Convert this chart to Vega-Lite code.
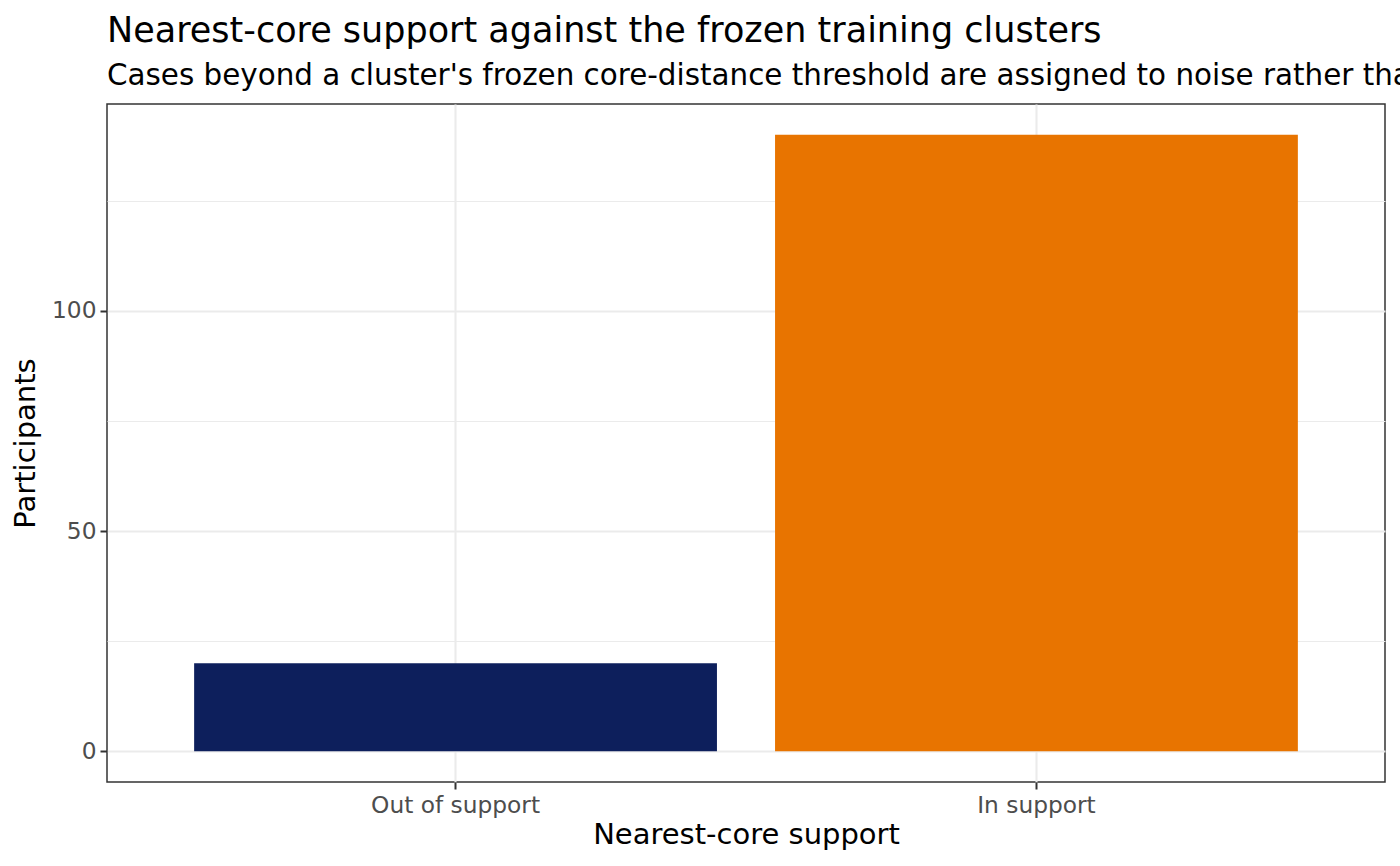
{
  "$schema": "https://vega.github.io/schema/vega-lite/v6.json",
  "autosize": {"type": "none"},
  "width": 1278,
  "height": 678,
  "padding": {"left": 107, "top": 104, "right": 15, "bottom": 84},
  "background": "white",
  "title": {
    "text": "Nearest-core support against the frozen training clusters",
    "subtitle": "Cases beyond a cluster's frozen core-distance threshold are assigned to noise rather than to the nearest cluster",
    "anchor": "start",
    "frame": "group",
    "font": "DejaVu Sans",
    "fontSize": 35,
    "fontWeight": "normal",
    "color": "black",
    "subtitleFont": "DejaVu Sans",
    "subtitleFontSize": 29.4,
    "subtitleColor": "black",
    "subtitlePadding": 13,
    "offset": 14
  },
  "data": {
    "values": [
      {"support": "Out of support", "participants": 20},
      {"support": "In support", "participants": 140}
    ]
  },
  "mark": {"type": "bar"},
  "encoding": {
    "x": {
      "field": "support",
      "type": "nominal",
      "sort": ["Out of support", "In support"],
      "scale": {"paddingInner": 0.1, "paddingOuter": 0.15},
      "axis": {
        "title": "Nearest-core support",
        "titleFont": "DejaVu Sans",
        "titleFontSize": 29,
        "titleFontWeight": "normal",
        "titleColor": "black",
        "titlePadding": 4,
        "labelFont": "DejaVu Sans",
        "labelFontSize": 23.3,
        "labelColor": "#4D4D4D",
        "labelAngle": 0,
        "labelPadding": 5,
        "domain": false,
        "ticks": true,
        "tickColor": "#333333",
        "tickSize": 7,
        "tickWidth": 2,
        "grid": true,
        "gridColor": "#EBEBEB",
        "gridWidth": 2.1,
        "bandPosition": 0.5
      }
    },
    "y": {
      "field": "participants",
      "type": "quantitative",
      "scale": {"domain": [-7, 147], "nice": false, "zero": false},
      "axis": {
        "title": "Participants",
        "values": [0, 25, 50, 75, 100, 125],
        "labelExpr": "datum.value % 50 === 0 ? datum.label : ''",
        "titleFont": "DejaVu Sans",
        "titleFontSize": 29,
        "titleFontWeight": "normal",
        "titleColor": "black",
        "titlePadding": 11,
        "labelFont": "DejaVu Sans",
        "labelFontSize": 23.3,
        "labelColor": "#4D4D4D",
        "labelPadding": 4,
        "domain": false,
        "tickColor": "#333333",
        "tickSize": 7,
        "tickWidth": 2,
        "tickOpacity": {"condition": {"test": "datum.value % 50 !== 0", "value": 0}, "value": 1},
        "grid": true,
        "gridColor": "#EBEBEB",
        "gridWidth": {"condition": {"test": "datum.value % 50 !== 0", "value": 1.1}, "value": 2.1}
      }
    },
    "color": {
      "field": "support",
      "type": "nominal",
      "scale": {"domain": ["Out of support", "In support"], "range": ["#0D1F5C", "#E87400"]},
      "legend": null
    }
  },
  "config": {
    "view": {"stroke": "#333333", "strokeWidth": 1.5}
  }
}
